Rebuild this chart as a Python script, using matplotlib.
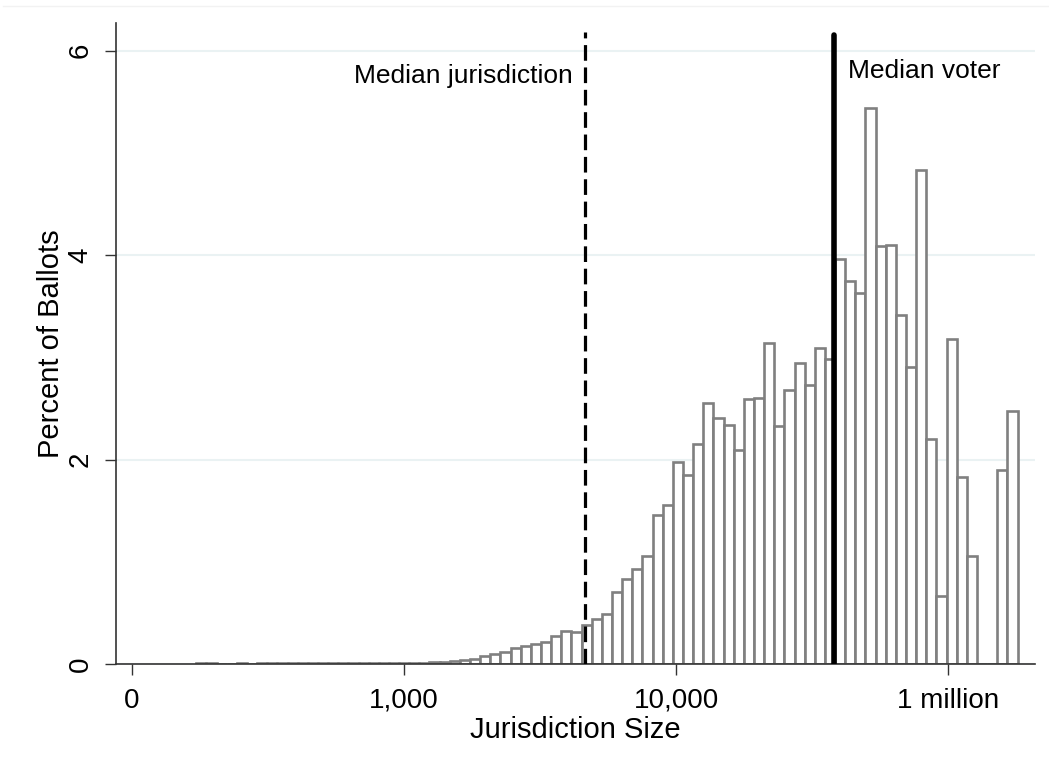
import matplotlib
matplotlib.use("Agg")
import matplotlib.pyplot as plt
from matplotlib.lines import Line2D

plt.rcParams['font.family'] = ['Liberation Sans', 'DejaVu Sans']

# histogram bins (x in axis units, ticks at 0..3)
first_edge = 0.2361
bin_width = 0.03728
pct_ballots = [
    0.008, 0.008, 0, 0, 0.008, 0,
    0.005, 0.005, 0.005, 0.005, 0.005, 0.005, 0.005, 0.005, 0.005, 0.005,
    0.006, 0.006, 0.006, 0.006, 0.006,
    0.008, 0.012, 0.015, 0.02, 0.029, 0.039, 0.046, 0.078, 0.098, 0.12,
    0.16, 0.18, 0.20, 0.22, 0.27, 0.32, 0.31, 0.38,
    0.44, 0.49, 0.70, 0.83, 0.93, 1.06, 1.46, 1.56, 1.98, 1.85,
    2.15, 2.55, 2.41, 2.34, 2.09, 2.59, 2.60, 3.14, 2.33, 2.68,
    2.95, 2.73, 3.09, 2.98, 3.96, 3.75, 3.63, 5.44, 4.09, 4.10,
    3.41, 2.91, 4.83, 2.20, 0.67, 3.18, 1.83, 1.06, 0, 0,
    1.90, 2.48,
]
bin_lefts = [first_edge + i * bin_width for i in range(len(pct_ballots))]

tick_pos = [0, 1, 2, 3]
tick_labels = ["0", "1,000", "10,000", "1 million"]
y_ticks = [0, 2, 4, 6]

median_jurisdiction = 1.665
median_voter = 2.581

fig = plt.figure(figsize=(10.49, 7.73), dpi=100)
ax = fig.add_axes([0.1106, 0.141, 0.8761, 0.829])

ax.bar(bin_lefts, pct_ballots, width=bin_width, align='edge',
       facecolor='white', edgecolor='#808080', linewidth=1.9, zorder=2)

ax.axvline(median_jurisdiction, ymax=6.18 / 6.27, color='black', lw=2.3,
           linestyle=(0, (4.9, 2.1)), zorder=3)
ax.plot([median_voter, median_voter], [0, 6.15], color='black', lw=4,
        solid_capstyle='round', zorder=3)

ax.text(1.621, 5.68, "Median jurisdiction", ha='right', va='baseline', fontsize=19)
ax.text(2.632, 5.735, "Median voter", ha='left', va='baseline', fontsize=19)

ax.set_xlim(-0.059, 3.32)
ax.set_ylim(0, 6.27)
ax.set_xticks(tick_pos)
ax.set_xticklabels(tick_labels, fontsize=20)
ax.set_yticks(y_ticks)
ax.set_yticklabels([str(v) for v in y_ticks], fontsize=20, rotation=90, va='center')
ax.tick_params(direction='out', length=8, width=1, color='#333333')
ax.tick_params(axis='x', pad=9)
ax.tick_params(axis='y', pad=8)

ax.yaxis.grid(True, color='#EAF2F3', lw=1.5)
ax.set_axisbelow(True)

for s in ['top', 'right']:
    ax.spines[s].set_visible(False)
for s in ['left', 'bottom']:
    ax.spines[s].set_color('#333333')
    ax.spines[s].set_linewidth(1.2)

ax.set_xlabel("Jurisdiction Size", fontsize=21, labelpad=2)
ax.set_ylabel("Percent of Ballots", fontsize=21, labelpad=2)

fig.add_artist(Line2D([0.003, 1.0], [0.992, 0.992], color='#F2F2F2', lw=1))

fig.savefig("out.png", dpi=100)
